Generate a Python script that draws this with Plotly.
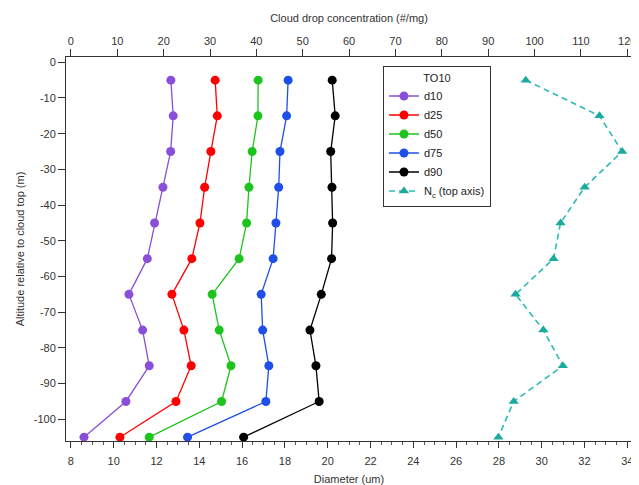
import plotly.graph_objects as go

altitude = [-5, -15, -25, -35, -45, -55, -65, -75, -85, -95, -105]

d10 = [12.67, 12.78, 12.66, 12.30, 11.91, 11.57, 10.71, 11.35, 11.66, 10.57, 8.61]
d25 = [14.74, 14.84, 14.54, 14.25, 14.03, 13.65, 12.72, 13.28, 13.62, 12.91, 10.29]
d50 = [16.75, 16.74, 16.47, 16.32, 16.21, 15.86, 14.60, 14.93, 15.48, 15.04, 11.66]
d75 = [18.15, 18.08, 17.77, 17.71, 17.58, 17.45, 16.89, 16.96, 17.25, 17.11, 13.45]
d90 = [20.21, 20.35, 20.14, 20.20, 20.23, 20.18, 19.70, 19.17, 19.45, 19.60, 16.07]
nc = [98.1, 114.0, 118.9, 110.8, 105.6, 104.1, 95.9, 101.9, 106.1, 95.5, 92.2]

y_ticks = list(range(0, -101, -10))
y_tick_labels = [str(v) for v in y_ticks]
x_ticks = list(range(8, 35, 2))
x2_ticks = list(range(0, 121, 10))

series = [("d10", d10, "#8a4fd8"), ("d25", d25, "#ff0000"), ("d50", d50, "#1ec41e"),
          ("d75", d75, "#1f4fe8"), ("d90", d90, "#000000")]

FONT = "Liberation Sans, Arial, sans-serif"

fig = go.Figure()
for name, vals, col in series:
    fig.add_trace(go.Scatter(
        x=vals, y=altitude, name=name, mode="lines+markers",
        line=dict(color=col, width=1.3),
        marker=dict(color=col, size=9, symbol="circle"),
        xaxis="x", yaxis="y"))

fig.add_trace(go.Scatter(
    x=nc, y=altitude, name="N<sub>c</sub> (top axis)", mode="lines+markers",
    line=dict(color="#2bbcb4", width=1.6, dash="6px,4px"),
    marker=dict(color="#1aab9e", size=9, symbol="triangle-up"),
    xaxis="x2", yaxis="y"))

xmin, xmax = 7.77, 34.22
scale = 120.0 / 26.0

# page body has an 8px default margin, so the figure is sized 8px smaller
fig.update_layout(
    width=631, height=477,
    margin=dict(l=58, r=7, t=49, b=44),
    paper_bgcolor="white", plot_bgcolor="white",
    font=dict(family=FONT, size=11, color="#333333"),
    showlegend=True,
    legend=dict(
        x=0.560, y=0.976, xanchor="left", yanchor="top",
        bordercolor="#333333", borderwidth=1, bgcolor="white",
        font=dict(family=FONT, size=11, color="#222222"),
        title=dict(text="TO10", side="top center", font=dict(family=FONT, size=11, color="#222222")),
        tracegroupgap=0, itemwidth=30,
    ),
    xaxis=dict(
        range=[xmin, xmax], tickmode="array",
        tickvals=x_ticks, ticktext=[str(v) for v in x_ticks],
        ticks="outside", ticklen=6, tickcolor="#333333", tickwidth=1,
        ticklabelstandoff=4,
        minor=dict(dtick=0.5, tick0=8, ticks="outside", ticklen=3, tickcolor="#555555"),
        showline=True, linecolor="#333333", linewidth=1,
        showgrid=False, zeroline=False, automargin=False,
        title=dict(text="Diameter (um)", standoff=10, font=dict(size=11)),
    ),
    xaxis2=dict(
        range=[(xmin - 8) * scale, (xmax - 8) * scale],
        overlaying="x", side="top", anchor="y",
        tickmode="array", tickvals=x2_ticks, ticktext=[str(v) for v in x2_ticks],
        ticks="outside", ticklen=7, tickcolor="#333333",
        showline=True, linecolor="#333333", linewidth=1,
        showgrid=False, zeroline=False, automargin=False,
        title=dict(text="Cloud drop concentration (#/mg)", standoff=9, font=dict(size=11)),
    ),
    yaxis=dict(
        range=[-106.07, 1.48], tickmode="array",
        tickvals=y_ticks, ticktext=y_tick_labels,
        ticks="outside", ticklen=7, tickcolor="#333333",
        showline=True, linecolor="#333333", linewidth=1, mirror=True,
        showgrid=False, zeroline=False, automargin=False,
        title=dict(text="Altitude relative to cloud top (m)", standoff=6, font=dict(size=11)),
    ),
)

fig.write_html("out.html")
